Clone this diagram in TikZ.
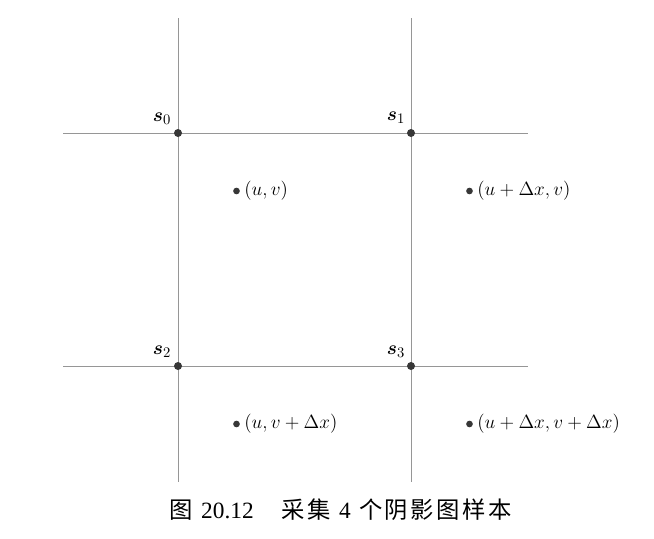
\documentclass[tikz,border=0pt]{standalone}
\usepackage{amsmath}
\usepackage{bm}
\usepackage{fontspec}
\usepackage{tikz}
\usetikzlibrary{positioning}
\newfontfamily\cjk{Noto Sans CJK SC}
\newfontfamily\capnum{Liberation Serif}
\definecolor{gridgray}{RGB}{150,150,150}
\definecolor{dotgray}{RGB}{55,55,55}

\begin{document}
\begin{tikzpicture}[x=0.75pt, y=-0.75pt,
  gridline/.style={draw=gridgray, line width=0.6pt},
  corner/.style={circle, fill=dotgray, inner sep=0pt, minimum size=6pt},
  sample/.style={circle, fill=dotgray, inner sep=0pt, minimum size=5pt},
  lbl/.style={font=\fontsize{15}{18}\selectfont, inner sep=0pt}
]
  \useasboundingbox (0,0) rectangle (654,539);
  % ends of the grid lines
  \coordinate (top0)   at (178,18);
  \coordinate (bot0)   at (178,482);
  \coordinate (top1)   at (411,18);
  \coordinate (bot1)   at (411,482);
  \coordinate (left0)  at (63,133);
  \coordinate (right0) at (528,133);
  \coordinate (left1)  at (63,366);
  \coordinate (right1) at (528,366);
  \draw[gridline] (top0)  -- (bot0);
  \draw[gridline] (top1)  -- (bot1);
  \draw[gridline] (left0) -- (right0);
  \draw[gridline] (left1) -- (right1);
  % shadow map samples
  \node[corner] (s0) at (178,133) {};
  \node[corner] (s1) at (411,133) {};
  \node[corner] (s2) at (178,366) {};
  \node[corner] (s3) at (411,366) {};
  \node[lbl] (s0lbl) at (162,119) {$\bm{s}_0$};
  \node[lbl] (s1lbl) at (396,118) {$\bm{s}_1$};
  \node[lbl] (s2lbl) at (162,352) {$\bm{s}_2$};
  \node[lbl] (s3lbl) at (396,352) {$\bm{s}_3$};
  % lookup points
  \node[sample] (p0) at (236.5,191) {};
  \node[sample] (p1) at (469.5,191) {};
  \node[sample] (p2) at (236.5,424) {};
  \node[sample] (p3) at (469.5,424) {};
  \node[lbl, right=3pt of p0] (p0lbl) {$(u,v)$};
  \node[lbl, right=3pt of p1] (p1lbl) {$(u+\Delta x,v)$};
  \node[lbl, right=3pt of p2] (p2lbl) {$(u,v+\Delta x)$};
  \node[lbl, right=3pt of p3] (p3lbl) {$(u+\Delta x,v+\Delta x)$};
  \node[font=\fontsize{17.5}{20}\selectfont, inner sep=0pt] (cap) at (341,510)
    {\cjk 图\hspace{0.35em}{\capnum 20.12}\hspace{1.2em}采\kern2pt集\hspace{0.35em}{\capnum 4}\hspace{0.35em}个\kern2pt阴\kern2pt影\kern2pt图\kern2pt样\kern2pt本};
\end{tikzpicture}
\end{document}
